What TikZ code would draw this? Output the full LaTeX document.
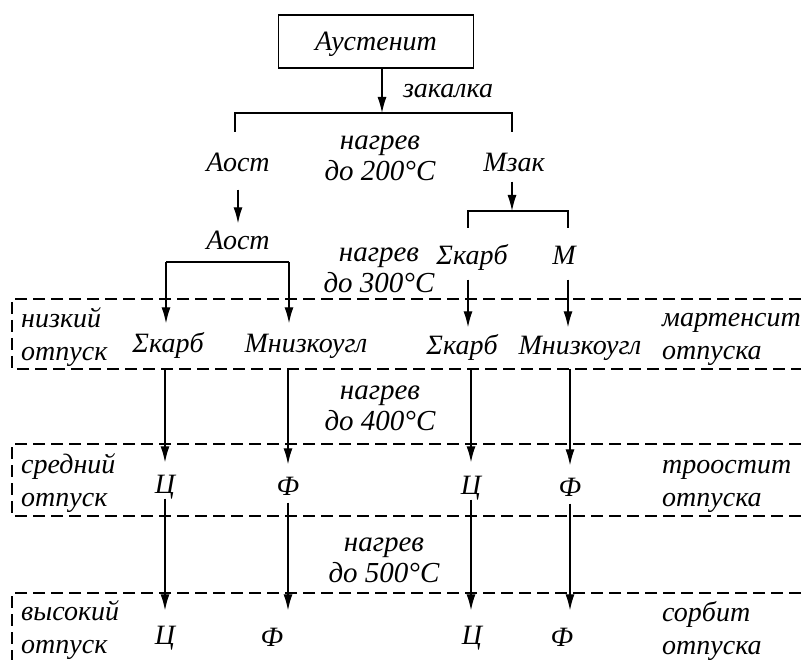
\documentclass[tikz,border=0pt]{standalone}
\usepackage{fontspec}
\setmainfont{Liberation Serif}
\usetikzlibrary{arrows.meta,calc}

\begin{document}
\begin{tikzpicture}[x=1pt,y=-1pt,
  every node/.style={font=\fontsize{28}{31}\selectfont\itshape},
  phase/.style={inner sep=0pt,text height=21pt,text depth=2pt},
  box/.style={draw,line width=1.3pt,minimum width=195pt,minimum height=53pt,inner sep=0pt,text height=21pt,text depth=2pt},
  heat/.style={align=center,inner sep=0pt,font=\fontsize{29}{31}\selectfont\itshape},
  zone/.style={align=left,anchor=west,inner sep=0pt,font=\fontsize{28}{33}\selectfont\itshape},
  line/.style={line width=1.3pt},
  arr/.style={-{Latex[length=16pt,width=9pt]},line width=1.3pt},
  stage/.style={dash pattern=on 12pt off 6pt,line width=1.3pt}]
  \useasboundingbox (0,0) rectangle (801,660);

  % tempering zones
  \draw[stage] (801,299) -- (12,299) -- (12,369) -- (801,369);
  \draw[stage] (801,444) -- (12,444) -- (12,516) -- (801,516);
  \draw[stage] (801,593) -- (12,593) -- (12,660);

  \node[box] (aust) at (376,41.5) {Аустенит};
  \node[phase] (zak) at (448,88) {закалка};
  \node[phase] (aost1) at (238,162) {Аост};
  \node[phase] (mzak) at (514,162) {Мзак};
  \node[phase] (aost2) at (238,240) {Аост};
  \node[phase] (skarbU) at (472,255) {Σкарб};
  \node[phase] (mU) at (564,255) {М};
  \node[phase] (skarbL) at (168,343) {Σкарб};
  \node[phase] (mnL) at (306,343) {Мнизкоугл};
  \node[phase] (skarbR) at (462,345) {Σкарб};
  \node[phase] (mnR) at (580,345) {Мнизкоугл};
  \node[phase] (cL) at (165,484) {Ц};
  \node[phase] (fL) at (288,486) {Ф};
  \node[phase] (cR) at (471,485) {Ц};
  \node[phase] (fR) at (570,487) {Ф};
  \node[phase] (cL2) at (165,635) {Ц};
  \node[phase] (fL2) at (272,637) {Ф};
  \node[phase] (cR2) at (472,635) {Ц};
  \node[phase] (fR2) at (562,637) {Ф};

  \node[heat] (heat1) at (380,158) {нагрев\\до 200°С};
  \node[heat] (heat2) at (379,270) {нагрев\\до 300°С};
  \node[heat] (heat3) at (380,408) {нагрев\\до 400°С};
  \node[heat] (heat4) at (384,560) {нагрев\\до 500°С};

  \node[zone] (low) at (21,337) {низкий\\отпуск};
  \node[zone] (mid) at (21,483) {средний\\отпуск};
  \node[zone] (high) at (21,630) {высокий\\отпуск};
  \node[zone] (mart) at (662,339) {мартенсит\\отпуска};
  \node[zone] (troo) at (662,486) {троостит\\отпуска};
  \node[zone] (sorb) at (662,631) {сорбит\\отпуска};

  % splits
  \coordinate (sp1) at (382,113);
  \coordinate (t1l) at (235,132);
  \coordinate (t1r) at (512,132);
  \coordinate (sp2) at (512,211);
  \coordinate (t3l) at (468,228);
  \coordinate (t3r) at (568,228);
  \coordinate (b2l) at (166,262);
  \coordinate (b2r) at (289,262);

  \draw[arr] (aust.south -| sp1) -- (sp1);
  \draw[line] (t1l) -- ++(0,-19) -| (t1r);
  \draw[arr,shorten <=16pt,shorten >=5pt] (aost1.south) -- (aost2.north);
  \draw[arr,shorten <=8pt] (mzak.south -| sp2) -- (sp2);
  \draw[line] (t3l) -- ++(0,-17) -| (t3r);
  \draw[line] (b2l) -- (b2r);
  \draw[arr,shorten >=8pt] (b2l) -- (b2l |- skarbL.north);
  \draw[arr,shorten >=8pt] (b2r) -- (b2r |- mnL.north);
  \draw[arr,shorten <=13pt,shorten >=6pt] (skarbU.south -| t3l) -- (skarbR.north -| t3l);
  \draw[arr,shorten <=13pt,shorten >=6pt] (mU.south -| t3r) -- (mnR.north -| t3r);

  \draw[arr,shorten <=14pt,shorten >=10pt] (skarbL.south -| cL) -- (cL.north);
  \draw[arr,shorten <=14pt,shorten >=10pt] (mnL.south -| fL) -- (fL.north);
  \draw[arr,shorten <=12pt,shorten >=11pt] (skarbR.south -| cR) -- (cR.north);
  \draw[arr,shorten <=12pt,shorten >=10pt] (mnR.south -| fR) -- (fR.north);

  \draw[arr,shorten <=3pt,shorten >=13pt] (cL.south) -- (cL2.north);
  \draw[arr,shorten <=5pt,shorten >=15pt] (fL.south) -- (fL.south |- fL2.north);
  \draw[arr,shorten <=3pt,shorten >=13pt] (cR.south) -- (cR.south |- cR2.north);
  \draw[arr,shorten <=5pt,shorten >=15pt] (fR.south) -- (fR.south |- fR2.north);
\end{tikzpicture}
\end{document}
